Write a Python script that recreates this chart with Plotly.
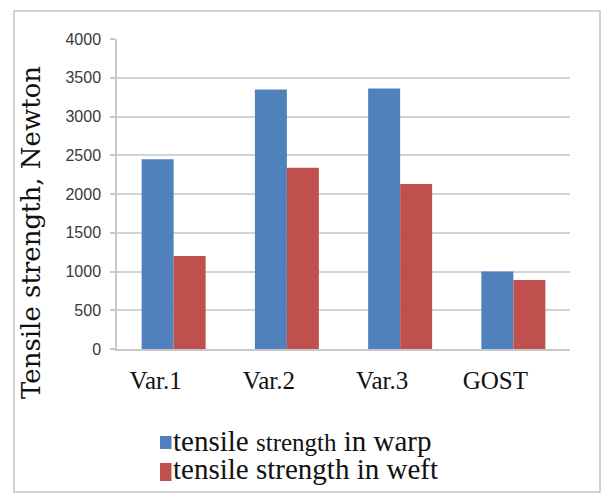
import plotly.graph_objects as go

# Tensile strength of fabric variants (N)
categories = ["Var.1", "Var.2", "Var.3", "GOST"]
warp_strength = [2450, 3350, 3360, 1000]
weft_strength = [1200, 2340, 2130, 890]
series_names = [
    'tensile <span style="font-size:25px">strength</span> in warp',
    "tensile strength in weft",
]
y_ticks = [0, 500, 1000, 1500, 2000, 2500, 3000, 3500, 4000]
y_title = "Tensile strength, Newton"

W, H = 605, 493
ML, MR, MT, MB = 117, 35, 39, 144
plot_w = W - ML - MR
plot_h = H - MT - MB

BLUE = "#4F81BD"
RED = "#C0504D"
colors = [BLUE, RED]

SERIF = "Liberation Serif, Times New Roman, serif"

fig = go.Figure()
fig.add_trace(go.Bar(x=categories, y=warp_strength, name=series_names[0],
                     marker=dict(color=BLUE, line=dict(width=0))))
fig.add_trace(go.Bar(x=categories, y=weft_strength, name=series_names[1],
                     marker=dict(color=RED, line=dict(width=0))))


def px_to_paper_x(px):
    return (px - ML) / plot_w


def px_to_paper_y(py):
    return (H - MB - py) / plot_h


# thin outer frame around the whole chart
fig.add_shape(type="rect", xref="paper", yref="paper",
              x0=px_to_paper_x(14), x1=px_to_paper_x(600),
              y0=px_to_paper_y(492), y1=px_to_paper_y(11),
              line=dict(color="#c4c4c4", width=1.5), fillcolor="rgba(0,0,0,0)",
              layer="below")

# compact legend below the chart: colour key + series name
key_rows = [(436, 449, 441), (463, 481, 469)]  # (key top, key bottom, text middle)
for name, color, (k_top, k_bot, t_mid) in zip(series_names, colors, key_rows):
    fig.add_shape(type="rect", xref="paper", yref="paper",
                  x0=px_to_paper_x(160), x1=px_to_paper_x(171.5),
                  y0=px_to_paper_y(k_bot), y1=px_to_paper_y(k_top),
                  line=dict(width=0), fillcolor=color)
    fig.add_annotation(xref="paper", yref="paper",
                       x=px_to_paper_x(171), y=px_to_paper_y(t_mid),
                       xanchor="left", yanchor="middle", showarrow=False,
                       text=name, font=dict(family=SERIF, size=29, color="#111111"))

# vertical axis title
fig.add_annotation(xref="paper", yref="paper",
                   x=px_to_paper_x(31), y=px_to_paper_y(233),
                   xanchor="center", yanchor="middle", showarrow=False,
                   textangle=-90, text=y_title,
                   font=dict(family="DejaVu Serif, serif", size=26, color="#111111"))

fig.update_layout(
    width=W, height=H,
    margin=dict(l=ML, r=MR, t=MT, b=MB, autoexpand=False),
    paper_bgcolor="white", plot_bgcolor="white",
    barmode="group", bargap=0.435, bargroupgap=0,
    showlegend=False,
    xaxis=dict(
        type="category",
        showgrid=False,
        showline=True, linecolor="#c8c8c8", linewidth=1.5,
        ticks="", ticklabelshift=-18, ticklabelstandoff=8,
        tickangle=0,
        tickfont=dict(family=SERIF, size=25, color="#111111"),
    ),
    yaxis=dict(
        range=[0, 4000], tickvals=y_ticks,
        showgrid=True, gridcolor="#d3d3d3", gridwidth=2,
        showline=True, linecolor="#c8c8c8", linewidth=1.5,
        ticks="outside", ticklen=5, tickcolor="#c8c8c8", tickwidth=1.5,
        ticklabelstandoff=6,
        zeroline=False,
        tickfont=dict(family="Liberation Sans Narrow, Arial Narrow, sans-serif", size=16, color="#3a3a3a"),
    ),
)

fig.write_html("out.html")
